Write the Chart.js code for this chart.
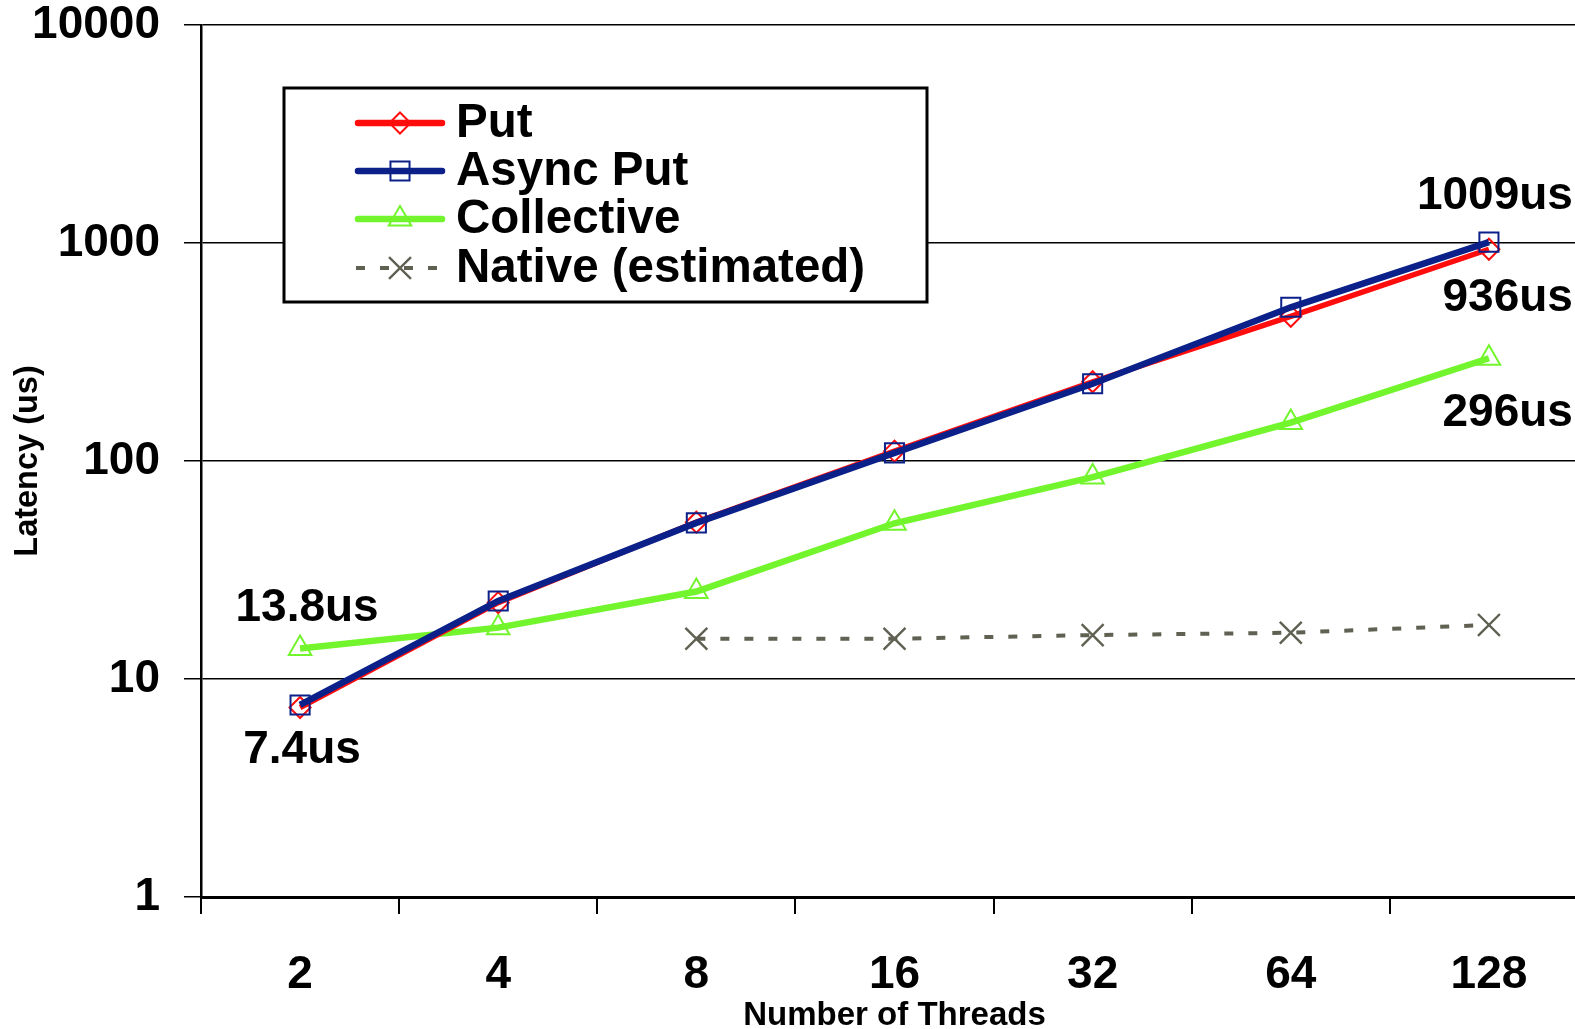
<!DOCTYPE html>
<html>
<head>
<meta charset="utf-8">
<script src="https://cdn.jsdelivr.net/npm/chart.js"></script>
<style>
  html, body { margin: 0; padding: 0; background: #fff; overflow: hidden; width: 1575px; height: 1029px; }
  #c { position: absolute; left: 0; top: 0; display: block; }
</style>
</head>
<body>
<canvas id="c" width="1588" height="1029" style="width:1588px;height:1029px"></canvas>
<script>
// ---- data ----
const threads = ['2', '4', '8', '16', '32', '64', '128'];
const putLatency = [7.4, 22.4, 52.4, 111, 231, 461, 936];
const asyncPutLatency = [7.6, 22.8, 52.0, 109, 226, 507, 1009];
const collectiveLatency = [13.8, 17.2, 25.2, 51.8, 84.4, 150, 296];
const nativeLatency = [null, null, 15.3, 15.3, 15.9, 16.3, 17.7];
const yTickValues = [1, 10, 100, 1000, 10000];
const seriesNames = ['Put', 'Async Put', 'Collective', 'Native (estimated)'];
const calloutTexts = ['1009us', '936us', '296us', '13.8us', '7.4us'];

const FONT = "'Liberation Sans', Arial, sans-serif";

// callouts: which dataset/point they refer to, and placement
const callouts = [
  { ds: 1, idx: 6, dx: 84, dy: -46, align: 'right' },
  { ds: 0, idx: 6, dx: 84, dy: 49, align: 'right' },
  { ds: 2, idx: 6, dx: 84, dy: 55, align: 'right' },
  { ds: 2, idx: 0, dx: 7, dy: -40, align: 'center' },
  { ds: 0, idx: 0, dx: 2, dy: 43, align: 'center' }
];

function drawMarker(ctx, style, x, y, r, color, lw) {
  ctx.save();
  ctx.strokeStyle = color;
  ctx.lineWidth = lw;
  ctx.setLineDash([]);
  ctx.beginPath();
  if (style === 'rectRot') {
    ctx.moveTo(x, y - r); ctx.lineTo(x + r, y); ctx.lineTo(x, y + r); ctx.lineTo(x - r, y); ctx.closePath();
  } else if (style === 'rect') {
    const s = r * Math.SQRT1_2;
    ctx.rect(x - s, y - s, 2 * s, 2 * s);
  } else if (style === 'triangle') {
    for (let i = 0; i < 3; i++) {
      const a = i * 2 * Math.PI / 3;
      const px = x + Math.sin(a) * r, py = y - Math.cos(a) * r;
      if (i === 0) ctx.moveTo(px, py); else ctx.lineTo(px, py);
    }
    ctx.closePath();
  } else if (style === 'crossRot') {
    const s = r * Math.SQRT1_2;
    ctx.moveTo(x - s, y - s); ctx.lineTo(x + s, y + s);
    ctx.moveTo(x - s, y + s); ctx.lineTo(x + s, y - s);
  }
  ctx.stroke();
  ctx.restore();
}

const overlayPlugin = {
  id: 'overlay',
  afterDraw(chart) {
    const ctx = chart.ctx;
    // callout labels
    ctx.save();
    ctx.fillStyle = '#000';
    ctx.font = 'bold 46px ' + FONT;
    ctx.textBaseline = 'middle';
    callouts.forEach((c, i) => {
      const pt = chart.getDatasetMeta(c.ds).data[c.idx];
      ctx.textAlign = c.align;
      ctx.fillText(calloutTexts[i], pt.x + c.dx, pt.y + c.dy);
    });
    ctx.restore();

    // legend box
    const bx = 284, by = 88, bw = 643, bh = 214;
    ctx.save();
    ctx.fillStyle = '#fff';
    ctx.fillRect(bx, by, bw, bh);
    ctx.lineWidth = 3;
    ctx.strokeStyle = '#000';
    ctx.strokeRect(bx, by, bw, bh);
    const rows = [123, 171, 219, 268];
    chart.data.datasets.forEach((ds, i) => {
      const y = rows[i];
      ctx.save();
      ctx.strokeStyle = ds.borderColor;
      ctx.lineWidth = i === 3 ? 4 : 6.5;
      ctx.lineCap = i === 3 ? 'butt' : 'round';
      ctx.setLineDash(i === 3 ? [9, 15] : []);
      ctx.beginPath();
      ctx.moveTo(i === 3 ? 356 : 358, y);
      ctx.lineTo(442, y);
      ctx.stroke();
      ctx.restore();
      drawMarker(ctx, ds.pointStyle, 400, y, ds.pointRadius, ds.pointBorderColor, ds.pointBorderWidth);
      ctx.fillStyle = '#000';
      ctx.font = 'bold 47.5px ' + FONT;
      ctx.textAlign = 'left';
      ctx.textBaseline = 'middle';
      ctx.fillText(seriesNames[i], 456, y + 1);
    });
    ctx.restore();
  }
};

new Chart(document.getElementById('c'), {
  type: 'line',
  data: {
    labels: threads,
    datasets: [
      {
        label: seriesNames[0], data: putLatency,
        borderColor: '#ff0d0d', borderWidth: 5.5,
        pointStyle: 'rectRot', pointRadius: 10.5, pointBorderColor: '#ff0d0d',
        pointBackgroundColor: 'rgba(0,0,0,0)', pointBorderWidth: 2, order: 1
      },
      {
        label: seriesNames[1], data: asyncPutLatency,
        borderColor: '#0b2189', borderWidth: 6.5,
        pointStyle: 'rect', pointRadius: 13.5, pointBorderColor: '#0b2189',
        pointBackgroundColor: 'rgba(0,0,0,0)', pointBorderWidth: 2, order: 0
      },
      {
        label: seriesNames[2], data: collectiveLatency,
        borderColor: '#72f52c', borderWidth: 6.5,
        pointStyle: 'triangle', pointRadius: 13, pointBorderColor: '#72f52c',
        pointBackgroundColor: 'rgba(0,0,0,0)', pointBorderWidth: 2, order: 2
      },
      {
        label: seriesNames[3], data: nativeLatency,
        borderColor: '#606152', borderWidth: 4, borderDash: [9, 15],
        pointStyle: 'crossRot', pointRadius: 15.5, pointBorderColor: '#606152',
        pointBackgroundColor: 'rgba(0,0,0,0)', pointBorderWidth: 2.4, order: 3
      }
    ]
  },
  options: {
    responsive: false,
    maintainAspectRatio: false,
    devicePixelRatio: 1,
    animation: false,
    events: [],
    layout: { autoPadding: false, padding: { top: 25, right: 0, left: 0, bottom: 0 } },
    plugins: { legend: { display: false }, tooltip: { enabled: false } },
    elements: { line: { tension: 0 } },
    scales: {
      x: {
        type: 'category',
        offset: true,
        grid: { offset: true, drawOnChartArea: false, drawTicks: true, tickLength: 17, color: '#000', lineWidth: 2 },
        border: { display: true, color: '#000', width: 3 },
        ticks: { color: '#000', font: { family: FONT, size: 46, weight: 'bold' }, padding: 34, maxRotation: 0, autoSkip: false },
        title: { display: true, text: 'Number of Threads', color: '#000', font: { family: FONT, size: 33, weight: 'bold', lineHeight: 1 }, padding: { top: 0, bottom: -3 } },
        afterFit(s) { s.height = 132; s.paddingLeft = 0; s.paddingRight = 0; }
      },
      y: {
        type: 'logarithmic',
        min: 1, max: 10000,
        grid: { color: '#000', lineWidth: 1.5, tickLength: 17, drawTicks: true },
        border: { display: true, color: '#000', width: 2.5 },
        ticks: { color: '#000', font: { family: FONT, size: 46, weight: 'bold' }, padding: 24, callback: (v) => String(v) },
        afterBuildTicks(s) { s.ticks = yTickValues.map(v => ({ value: v })); },
        title: { display: true, text: 'Latency (us)', color: '#000', font: { family: FONT, size: 32.5, weight: 'bold', lineHeight: 1 }, padding: { top: 12, bottom: 0 } },
        afterFit(s) { s.width = 201; s.paddingTop = 0; s.paddingBottom = 0; }
      }
    }
  },
  plugins: [overlayPlugin]
});
</script>
</body>
</html>
